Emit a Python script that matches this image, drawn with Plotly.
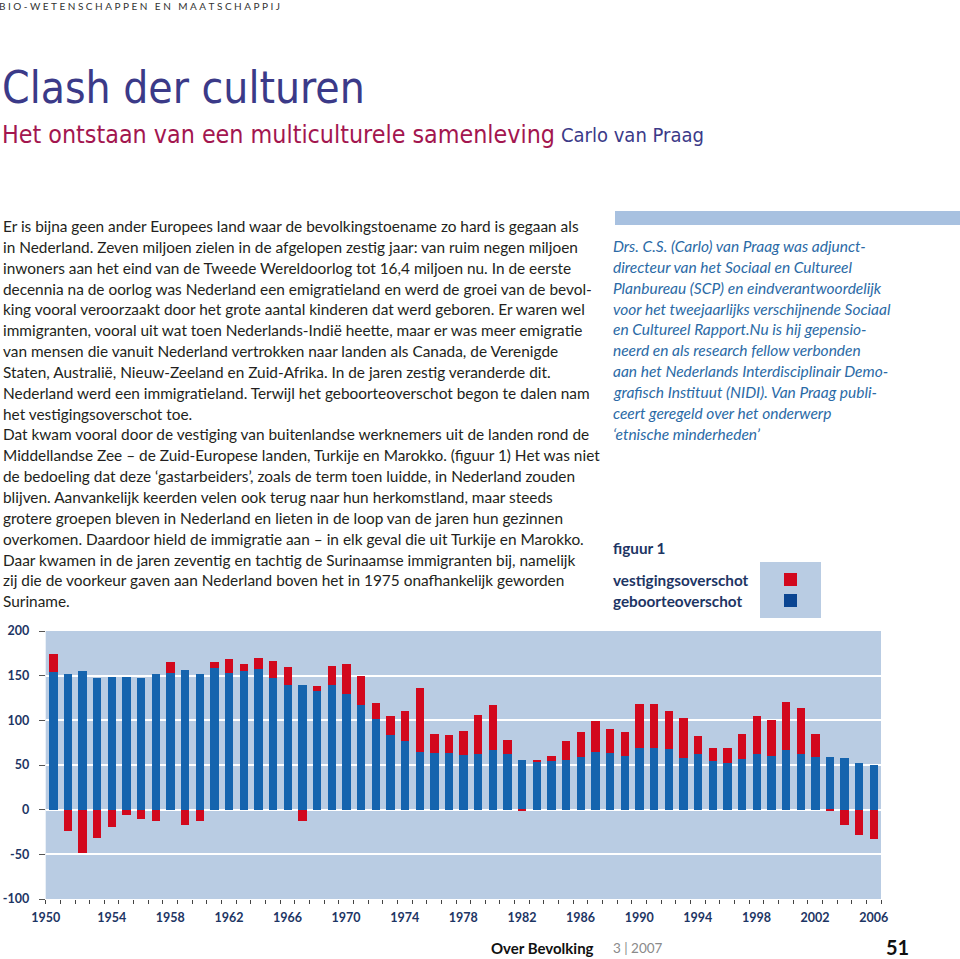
import plotly.graph_objects as go

# ---------------- data ----------------
years = list(range(1950, 2007))
geboorteoverschot = [154, 152, 155, 147, 149, 148, 147, 152, 153, 156,
                     152, 159, 153, 155, 157, 147, 140, 139, 133, 140,
                     130, 117, 101, 84, 77, 64, 63, 63, 61.5, 62,
                     67, 62.5, 55.5, 53, 54.5, 55.5, 59.5, 65, 63, 60.5,
                     69, 69, 67.5, 57.5, 62, 54.5, 52, 56.5, 62, 60.5,
                     66.5, 62, 59.5, 59, 57.5, 52, 50.5]
vestigingsoverschot = [20, -23.5, -48.5, -32, -19.5, -5.5, -11, -13, 12.5, -17.5,
                       -13, 6, 16, 8, 13, 19, 19.5, -12.5, 5.5, 20.5,
                       33, 33, 18, 21, 33.5, 72.5, 21.5, 21, 27, 44,
                       50.5, 15.5, -2, 2.5, 5.5, 21, 27, 34.5, 27, 26.5,
                       49, 49.5, 42.5, 45, 20.5, 14.5, 17.5, 28, 42.5, 40,
                       54, 51.5, 25, -1.5, -17, -28, -32.5]
x_tick_labels = list(range(1950, 2007, 4))
y_tick_values = [-100, -50, 0, 50, 100, 150, 200]

header = "BIO-WETENSCHAPPEN EN MAATSCHAPPIJ"
title = "Clash der culturen"
subtitle = "Het ontstaan van een multiculturele samenleving"
author = "Carlo van Praag"
body_lines = [
    "Er is bijna geen ander Europees land waar de bevolkingstoename zo hard is gegaan als",
    "in Nederland. Zeven miljoen zielen in de afgelopen zestig jaar: van ruim negen miljoen",
    "inwoners aan het eind van de Tweede Wereldoorlog tot 16,4 miljoen nu. In de eerste",
    "decennia na de oorlog was Nederland een emigratieland en werd de groei van de bevol-",
    "king vooral veroorzaakt door het grote aantal kinderen dat werd geboren. Er waren wel",
    "immigranten, vooral uit wat toen Nederlands-Indië heette, maar er was meer emigratie",
    "van mensen die vanuit Nederland vertrokken naar landen als Canada, de Verenigde",
    "Staten, Australië, Nieuw-Zeeland en Zuid-Afrika. In de jaren zestig veranderde dit.",
    "Nederland werd een immigratieland. Terwijl het geboorteoverschot begon te dalen nam",
    "het vestigingsoverschot toe.",
    "Dat kwam vooral door de vestiging van buitenlandse werknemers uit de landen rond de",
    "Middellandse Zee – de Zuid-Europese landen, Turkije en Marokko. (figuur 1) Het was niet",
    "de bedoeling dat deze ‘gastarbeiders’, zoals de term toen luidde, in Nederland zouden",
    "blijven. Aanvankelijk keerden velen ook terug naar hun herkomstland, maar steeds",
    "grotere groepen bleven in Nederland en lieten in de loop van de jaren hun gezinnen",
    "overkomen. Daardoor hield de immigratie aan – in elk geval die uit Turkije en Marokko.",
    "Daar kwamen in de jaren zeventig en tachtig de Surinaamse immigranten bij, namelijk",
    "zij die de voorkeur gaven aan Nederland boven het in 1975 onafhankelijk geworden",
    "Suriname.",
]
side_lines = [
    "Drs. C.S. (Carlo) van Praag was adjunct-",
    "directeur van het Sociaal en Cultureel",
    "Planbureau (SCP) en eindverantwoordelijk",
    "voor het tweejaarlijks verschijnende Sociaal",
    "en Cultureel Rapport.Nu is hij gepensio-",
    "neerd en als research fellow verbonden",
    "aan het Nederlands Interdisciplinair Demo-",
    "grafisch Instituut (NIDI). Van Praag publi-",
    "ceert geregeld over het onderwerp",
    "‘etnische minderheden’",
]
figure_label = "figuur 1"
legend_names = ["vestigingsoverschot", "geboorteoverschot"]

# ---------------- style ----------------
W, H = 960, 959
BLUE = "#1564ae"
RED = "#d2081d"
BG = "#b9cce3"
NAVY = "#1d3564"
TEXTFONT = "Lato, Open Sans, sans-serif"
HEADFONT = "Liberation Sans Narrow, DejaVu Sans Condensed, sans-serif"


def py(y):
    return 1 - y / H


def px(x):
    return x / W


fig = go.Figure()
fig.add_trace(go.Bar(x=years, y=geboorteoverschot, name=legend_names[1],
                     marker=dict(color=BLUE, line=dict(width=0)), width=0.57))
fig.add_trace(go.Bar(x=years, y=vestigingsoverschot, name=legend_names[0],
                     marker=dict(color=RED, line=dict(width=0)), width=0.57))

ann = []


def text(x, y, s, size, color, family=TEXTFONT, anchor="left", weight="normal", style="normal"):
    ann.append(dict(x=px(x), y=py(y), xref="paper", yref="paper", text=s, showarrow=False,
                    xanchor=anchor, yanchor="middle", borderpad=0,
                    font=dict(size=size, color=color, family=family, weight=weight, style=style)))


spaced = "\u2005".join(list(header)).replace("\u2005 \u2005", "\u2002\u2005")
text(-2, 6, spaced, 10, "#333333")
text(1, 87, title, 44, "#3b3a88", family=HEADFONT)
text(1, 134, subtitle, 24.8, "#a3164f", family=HEADFONT)
text(560, 135, author, 20, "#3b3a88", family=HEADFONT)

for i, line in enumerate(body_lines):
    text(2, 226 + i * 20.85, line, 15.4, "#231f20")

for i, line in enumerate(side_lines):
    text(612, 246 + i * 20.85, line, 15.5, "#2b6aa6", style="italic")

text(612, 548, figure_label, 15.3, NAVY, weight="bold")
text(612, 580, legend_names[0], 15.3, NAVY, weight="bold")
text(612, 601, legend_names[1], 15.3, NAVY, weight="bold")

text(490, 948, "Over Bevolking", 15, "#111111", weight="bold")
text(612, 948, "3 | 2007", 13.5, "#8a8a8a")
text(910, 947, "51", 20, "#111111", anchor="right", weight="bold")

shapes = [
    dict(type="rect", xref="paper", yref="paper", x0=px(615), x1=px(960), y0=py(225), y1=py(211),
         fillcolor="#a8c1e0", line=dict(width=0)),
    dict(type="rect", xref="paper", yref="paper", x0=px(760), x1=px(821), y0=py(618), y1=py(562),
         fillcolor=BG, line=dict(width=0)),
    dict(type="rect", xref="paper", yref="paper", x0=px(784), x1=px(797), y0=py(586), y1=py(573),
         fillcolor=RED, line=dict(width=0)),
    dict(type="rect", xref="paper", yref="paper", x0=px(784), x1=px(797), y0=py(607), y1=py(594),
         fillcolor="#0b4592", line=dict(width=0)),
]

x_text = [str(v) for v in x_tick_labels]
x_text[0] = x_text[0] + "\u2007\u2007"
y_text = [str(v) for v in y_tick_values]

fig.update_layout(
    width=W, height=H,
    autosize=False,
    margin=dict(l=0, r=0, t=0, b=0, pad=0),
    paper_bgcolor="white",
    plot_bgcolor=BG,
    barmode="relative",
    bargap=0,
    showlegend=False,
    annotations=ann,
    shapes=shapes,
    xaxis=dict(domain=[px(45.7), px(881)], range=[years[0] - 0.5, years[-1] + 0.5],
               automargin=False,
               tickmode="array", tickvals=x_tick_labels, ticktext=x_text,
               ticks="", showgrid=False, zeroline=False, showline=False,
               ticklabelstandoff=9,
               tickfont=dict(size=12.5, color=NAVY, family="Lato, sans-serif", weight="bold"),
               minor=dict(tick0=years[0] - 0.5, dtick=1, ticks="outside", ticklen=4,
                          tickcolor="#444444", tickwidth=1, showgrid=False)),
    yaxis=dict(domain=[py(899), py(631)], range=[-100, 200],
               automargin=False,
               tickmode="array", tickvals=y_tick_values, ticktext=y_text,
               ticks="outside", ticklen=6, tickcolor="#555555",
               ticklabelstandoff=7,
               gridcolor="white", gridwidth=1.5, zeroline=True, zerolinecolor="white",
               zerolinewidth=1.5, showline=False,
               tickfont=dict(size=12.5, color=NAVY, family="Lato, sans-serif", weight="bold")),
)

fig.write_html("out.html", config={"responsive": False, "displayModeBar": False},
               post_script="document.body.style.margin='0px';document.body.style.overflow='hidden';")
